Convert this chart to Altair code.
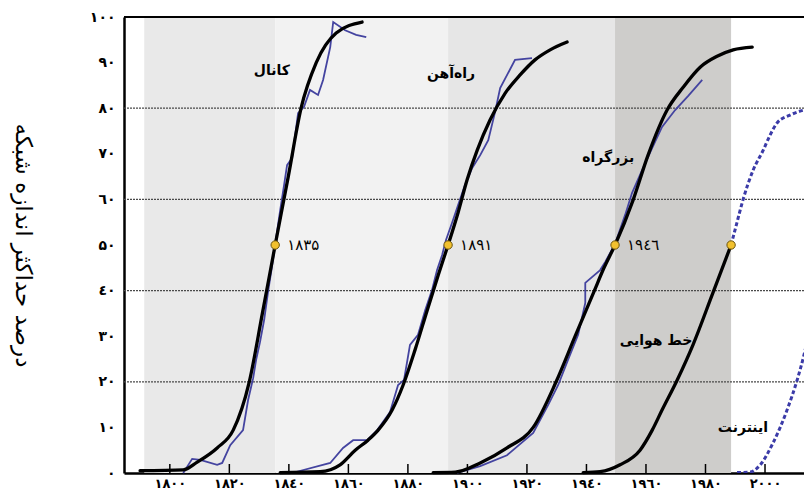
import altair as alt
import pandas as pd

# ---------------- data (years, percent of maximum network size) ----------------
canal_fit_year = [1790.0, 1804.5, 1809.2, 1815.9, 1821.3, 1826.7, 1831.1, 1835.4, 1839.8, 1844.1, 1849.2, 1855.9, 1864.6]
canal_fit_pct = [0.5, 0.7, 2.4, 5.5, 9.4, 20.0, 35.0, 50.0, 65.0, 80.0, 90.0, 96.5, 98.9]

canal_obs_year = [1804.5, 1807.5, 1810.2, 1815.9, 1817.6, 1820.3, 1824.6, 1826.3, 1828.0, 1829.0, 1830.3, 1831.7, 1833.0,
                  1834.4, 1835.7, 1837.1, 1838.4, 1839.4, 1841.1, 1843.1, 1845.1, 1847.1, 1849.8, 1851.5, 1853.9, 1854.9,
                  1858.9, 1862.6, 1866.0]
canal_obs_pct = [0.0, 3.1, 2.9, 1.8, 2.2, 6.1, 9.4, 16.0, 20.8, 24.8, 28.7, 33.6, 39.7,
                 45.6, 51.5, 57.7, 63.2, 67.5, 69.1, 78.9, 80.3, 84.0, 82.9, 86.2, 93.4, 98.9,
                 97.1, 96.1, 95.6]

rail_fit_year = [1837.1, 1850.5, 1857.2, 1862.3, 1866.6, 1870.0, 1874.7, 1878.4, 1882.4, 1886.5, 1890.2, 1893.5,
                 1896.9, 1899.9, 1903.3, 1907.6, 1912.7, 1917.7, 1922.7, 1927.8, 1933.5]
rail_fit_pct = [0.1, 0.3, 1.8, 5.0, 7.2, 9.4, 13.8, 19.3, 27.0, 35.7, 43.4, 50.0,
                57.2, 64.3, 70.8, 77.4, 83.3, 87.3, 90.6, 92.8, 94.5]

rail_obs_year = [1841.1, 1853.9, 1858.2, 1861.6, 1866.3, 1869.7, 1874.0, 1876.7, 1878.7, 1880.7, 1883.4, 1885.8,
                 1888.1, 1889.8, 1891.5, 1892.8, 1894.9, 1896.9, 1899.2, 1901.6, 1904.3, 1907.0, 1909.3, 1911.0,
                 1916.0, 1921.7]
rail_obs_pct = [0.0, 2.2, 5.5, 7.2, 7.2, 9.4, 13.4, 19.3, 20.4, 28.1, 30.3, 35.7,
                40.1, 44.5, 47.8, 51.1, 55.0, 58.8, 63.2, 66.9, 69.7, 73.0, 79.2, 84.4,
                90.6, 91.0]

road_fit_year = [1888.5, 1895.9, 1904.3, 1913.3, 1922.1, 1929.8, 1936.2, 1942.6, 1945.9, 1949.6, 1955.7, 1960.7,
                 1967.1, 1972.5, 1978.2, 1983.9, 1989.3, 1995.7]
road_fit_pct = [0.1, 0.2, 2.2, 5.5, 10.0, 20.0, 30.0, 39.9, 45.0, 50.0, 59.9, 69.7,
                79.6, 84.6, 89.0, 91.4, 92.8, 93.4]

road_obs_year = [1896.5, 1904.3, 1913.3, 1922.1, 1927.1, 1930.5, 1933.8, 1937.2, 1939.6, 1939.6, 1944.6, 1946.3,
                 1949.6, 1953.0, 1955.3, 1958.7, 1962.1, 1965.4, 1969.8, 1974.2, 1978.9]
road_obs_pct = [0.0, 1.5, 3.9, 8.8, 14.9, 19.3, 24.8, 30.3, 37.3, 41.7, 44.5, 46.3,
                50.2, 56.6, 61.4, 66.4, 71.3, 75.9, 79.6, 82.7, 86.2]

air_fit_year = [1938.9, 1944.6, 1951.3, 1958.0, 1962.1, 1965.4, 1970.5, 1975.8, 1982.2, 1988.6]
air_fit_pct = [0.1, 0.3, 1.8, 5.0, 9.4, 13.8, 20.4, 28.1, 39.0, 50.0]

air_proj_year = [1988.6, 1990.6, 1992.6, 1996.0, 1999.4, 2001.7, 2004.1, 2008.4, 2013.1, 2016.0]
air_proj_pct = [50.0, 55.0, 59.9, 66.4, 70.8, 74.1, 76.8, 78.5, 79.6, 80.0]

net_year = [1990.6, 1995.0, 1998.4, 2002.7, 2007.4, 2010.8, 2013.1, 2016.0]
net_pct = [0.1, 0.2, 1.8, 6.6, 13.8, 20.4, 25.9, 35.0]

# midpoints (50 %) and their labels
mid_year = [1835.4, 1893.5, 1949.6, 1988.6]
mid_pct = [50, 50, 50, 50]
mid_label = ["۱۸۳۵", "۱۸۹۱", "۱۹٤٦", ""]

# curve names
name_text = ["کانال", "راه‌آهن", "بزرگراه", "خط هوایی", "اینترنت"]
name_year = [1834.3, 1894.5, 1947.3, 1963.4, 1992.6]
name_pct = [88.2, 87.5, 69.1, 28.9, 9.9]

# background bands
band_start = [1791.4, 1835.4, 1893.5, 1949.6]
band_end = [1835.4, 1893.5, 1949.6, 1988.6]
band_color = ["#e9e9e9", "#f2f2f2", "#e6e6e6", "#cecdcb"]

grid_vals = [20, 40, 60, 80]

x_tick_years = [1800, 1820, 1840, 1860, 1880, 1900, 1920, 1940, 1960, 1980, 2000]
x_tick_labels = ["۱۸۰۰", "۱۸۲۰", "۱۸٤۰", "۱۸٦۰", "۱۸۸۰", "۱۹۰۰", "۱۹۲۰", "۱۹٤۰", "۱۹٦۰", "۱۹۸۰", "۲۰۰۰"]
y_tick_vals = [0, 10, 20, 30, 40, 50, 60, 70, 80, 90, 100]
y_tick_labels = ["۰", "۱۰", "۲۰", "۳۰", "٤۰", "۵۰", "٦۰", "۷۰", "۸۰", "۹۰", "۱۰۰"]

y_title = "درصد حداکثر اندازه شبکه"

# ---------------- tables ----------------
def series(name, xs, ys):
    return pd.DataFrame({"series": name, "year": xs, "pct": ys, "idx": list(range(len(xs)))})

fit_df = pd.concat([series("canal", canal_fit_year, canal_fit_pct),
                    series("rail", rail_fit_year, rail_fit_pct),
                    series("road", road_fit_year, road_fit_pct),
                    series("air", air_fit_year, air_fit_pct)])
obs_df = pd.concat([series("canal", canal_obs_year, canal_obs_pct),
                    series("rail", rail_obs_year, rail_obs_pct),
                    series("road", road_obs_year, road_obs_pct)])
dash_df = pd.concat([series("airproj", air_proj_year, air_proj_pct),
                     series("net", net_year, net_pct)])
mid_df = pd.DataFrame({"year": mid_year, "pct": mid_pct, "label": mid_label})
name_df = pd.DataFrame({"year": name_year, "pct": name_pct, "label": name_text})
band_df = pd.DataFrame({"year": band_start, "end": band_end, "color": band_color})
grid_df = pd.DataFrame({"pct": grid_vals})
tick_df = pd.DataFrame({"year": x_tick_years})

W, H = 680, 456
FONT = "DejaVu Sans"

x_lab = "{" + ",".join(f"'{v}':'{l}'" for v, l in zip(x_tick_years, x_tick_labels)) + "}[''+datum.value]"
y_lab = "{" + ",".join(f"'{v}':'{l}'" for v, l in zip(y_tick_vals, y_tick_labels)) + "}[''+datum.value]"

xs = alt.Scale(domain=[1784.6, 2013.1], nice=False, zero=False)
ys = alt.Scale(domain=[0, 100], nice=False)

x_axis = alt.Axis(values=x_tick_years, labelExpr=x_lab, grid=False, ticks=False,
                  domain=True, domainColor="black", domainWidth=2.5,
                  labelFont=FONT, labelFontSize=13, labelFontWeight="bold",
                  labelColor="black", labelPadding=4, labelBaseline="top", title=None)
y_axis = alt.Axis(values=y_tick_vals, labelExpr=y_lab, grid=False, ticks=False,
                  domain=True, domainColor="black", domainWidth=2.5,
                  labelFont=FONT, labelFontSize=14, labelFontWeight="bold",
                  labelColor="black", labelPadding=9,
                  title=y_title, titleAngle=90, titleX=-102, titleY=228,
                  titleAlign="center", titleBaseline="middle",
                  titleFont=FONT, titleFontSize=23, titleFontWeight="normal",
                  titleColor="black")

X = alt.X("year:Q", scale=xs, axis=x_axis)
Y = alt.Y("pct:Q", scale=ys, axis=y_axis)

bands = alt.Chart(band_df).mark_rect().encode(
    x=X, x2="end:Q",
    y=alt.value(0), y2=alt.value(H),
    color=alt.Color("color:N", scale=None))

grid = alt.Chart(grid_df).mark_rule(color="#4a4a4a", strokeWidth=1.3, strokeDash=[2, 1]).encode(
    y=Y, x=alt.value(0), x2=alt.value(W))

top = alt.Chart(grid_df).mark_rule(color="black", strokeWidth=2).encode(
    y=alt.value(0), x=alt.value(0), x2=alt.value(W))

ticks = alt.Chart(tick_df).mark_rule(color="black", strokeWidth=1.5).encode(
    x=X, y=alt.value(H - 9), y2=alt.value(H))

fit = alt.Chart(fit_df).mark_line(color="black", strokeWidth=3.3, interpolate="monotone", strokeCap="round").encode(
    x=X, y=Y, detail="series:N", order="idx:Q")

obs = alt.Chart(obs_df).mark_line(color="#4444a0", strokeWidth=1.8).encode(
    x=X, y=Y, detail="series:N", order="idx:Q")

dash = alt.Chart(dash_df).mark_line(color="#3b3ba8", strokeWidth=3, strokeDash=[4, 2.5], interpolate="monotone",
                                    clip=True).encode(
    x=X, y=Y, detail="series:N", order="idx:Q")

dots = alt.Chart(mid_df).mark_point(filled=True, fill="#f2c12e", stroke="#6b5510", strokeWidth=1,
                                    size=70, opacity=1).encode(x=X, y=Y)

dot_text = alt.Chart(mid_df).mark_text(align="left", baseline="middle", dx=12, font=FONT, fontSize=15,
                                       fontWeight="normal", color="black").encode(
    x=X, y=Y, text="label:N")

names = alt.Chart(name_df).mark_text(align="center", baseline="middle", font=FONT, fontSize=14,
                                     fontWeight="bold", color="black").encode(
    x=X, y=Y, text="label:N")

chart = alt.layer(bands, grid, top, ticks, obs, fit, dash, dots, dot_text, names).properties(
    width=W, height=H,
    autosize=alt.AutoSizeParams(type="none"),
    padding={"left": 124, "top": 17, "right": 0, "bottom": 21},
    background="white",
).configure_view(stroke=None)

chart.save("out.html", embed_options={"renderer": "svg", "actions": False})
